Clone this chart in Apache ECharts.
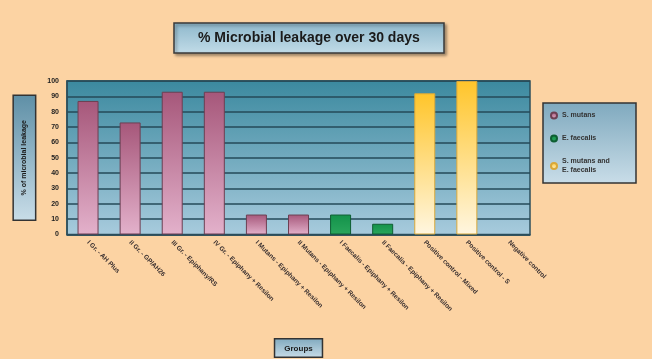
<!DOCTYPE html>
<html><head><meta charset="utf-8">
<script src="https://cdn.jsdelivr.net/npm/echarts@6/dist/echarts.min.js"></script>
<style>html,body{margin:0;padding:0;background:#FCD3A3;}#c{width:652px;height:359px;}</style>
</head><body><div id="c"></div>
<script>
const categories = [
  "I Gr. - AH Plus", "II Gr. - GP/AH26", "III Gr. - Epiphany/RS", "IV Gr. - Epiphany + Resilon",
  "I Mutans - Epiphany + Resilon", "II Mutans - Epiphany + Resilon",
  "I Faecalis - Epiphany + Resilon", "II Faecalis - Epiphany + Resilon",
  "Positive control - Mixed", "Positive control - S", "Negative control"
];
const seriesNames = ["S. mutans", "E. faecalis", "S. mutans and\nE. faecalis"];
const sMutans   = [87, 73, 93, 93, 13, 13, null, null, null, null, null];
const eFaecalis = [null, null, null, null, null, null, 13, 7, null, null, null];
const mixed     = [null, null, null, null, null, null, null, null, 92, 100, null];
const yTicks = { min: 0, max: 100, interval: 10 };

const G = echarts.graphic.LinearGradient;
const boxGrad = () => new G(0, 0, 0, 1, [{offset: 0, color: '#7FA9BE'}, {offset: 1, color: '#C9DDE8'}]);
const chart = echarts.init(document.getElementById('c'));
const barBase = {type: 'bar', stack: 'g', barWidth: 21};
chart.setOption({
  backgroundColor: '#FCD3A3',
  animation: false,
  title: {
    text: '% Microbial leakage over 30 days',
    left: 174, top: 23,
    padding: [8, 24, 8, 24],
    backgroundColor: new G(0, 0, 0, 1, [{offset: 0, color: '#8DB7CB'}, {offset: 1, color: '#C2DCE8'}]),
    borderColor: '#3a3a3a', borderWidth: 1.5,
    shadowColor: 'rgba(0,0,0,0.35)', shadowBlur: 3, shadowOffsetX: 2, shadowOffsetY: 2,
    textStyle: {fontFamily: 'Liberation Sans', fontSize: 14, fontWeight: 'bold', color: '#1a1a1a'}
  },
  legend: {
    orient: 'vertical', left: 543, top: 103,
    padding: [8, 7, 8, 7], itemGap: 14,
    itemWidth: 6, itemHeight: 6, icon: 'circle',
    backgroundColor: boxGrad(), borderColor: '#333', borderWidth: 1.5,
    textStyle: {fontFamily: 'Liberation Sans', fontSize: 7, fontWeight: 'bold', color: '#333', lineHeight: 9, width: 67},
    data: seriesNames
  },
  grid: {
    left: 67, right: 122, top: 81, bottom: 122, show: true,
    backgroundColor: new G(0, 0, 0, 1, [{offset: 0, color: '#3B899F'}, {offset: 1, color: '#A8CBDD'}]),
    borderColor: '#2d4f5c', borderWidth: 1.5
  },
  xAxis: {
    type: 'category', data: categories,
    name: 'Groups', nameLocation: 'middle', nameGap: 105,
    nameTextStyle: {fontFamily: 'Liberation Sans', fontSize: 8, fontWeight: 'bold', color: '#1a1a1a',
      backgroundColor: boxGrad(), borderColor: '#333', borderWidth: 1.5, padding: [5, 9, 4, 9]},
    axisLine: {lineStyle: {color: '#2d4f5c', width: 1.5}},
    axisTick: {show: false},
    axisLabel: {rotate: -45, interval: 0, fontFamily: 'Liberation Sans', fontSize: 6.5, fontWeight: 'bold', color: '#3a3030', margin: 7},
    splitLine: {show: false}
  },
  yAxis: {
    type: 'value', min: yTicks.min, max: yTicks.max, interval: yTicks.interval,
    name: '% of microbial leakage', nameLocation: 'middle', nameGap: 32, nameRotate: 90,
    nameTextStyle: {fontFamily: 'Liberation Sans', fontSize: 7, fontWeight: 'bold', color: '#1a1a1a',
      backgroundColor: new G(1, 0, 0, 0, [{offset: 0, color: '#5E8FA6'}, {offset: 1, color: '#C9DDE8'}]),
      borderColor: '#333', borderWidth: 1.5, padding: [7, 24, 7, 24]},
    axisLine: {show: true, lineStyle: {color: '#2d4f5c', width: 1.5}},
    axisTick: {show: false},
    axisLabel: {fontFamily: 'Liberation Sans', fontSize: 7, fontWeight: 'bold', color: '#222', margin: 8},
    splitLine: {lineStyle: {color: '#244a58', width: 1.5}}
  },
  series: [
    Object.assign({}, barBase, {name: seriesNames[0], data: sMutans,
      itemStyle: {color: new G(0, 0, 0, 1, [{offset: 0, color: '#A6577A'}, {offset: 1, color: '#E3B1CB'}]), borderColor: '#6d3f52', borderWidth: 1}}),
    Object.assign({}, barBase, {name: seriesNames[1], data: eFaecalis,
      itemStyle: {color: new G(0, 0, 0, 1, [{offset: 0, color: '#13924A'}, {offset: 1, color: '#2AA65C'}]), borderColor: '#0e5e32', borderWidth: 1}}),
    Object.assign({}, barBase, {name: seriesNames[2], data: mixed,
      itemStyle: {color: new G(0, 0, 0, 1, [{offset: 0, color: '#FFC52A'}, {offset: 1, color: '#FFF6E0'}]), borderColor: '#d9a83a', borderWidth: 1}})
  ]
});
</script></body></html>
